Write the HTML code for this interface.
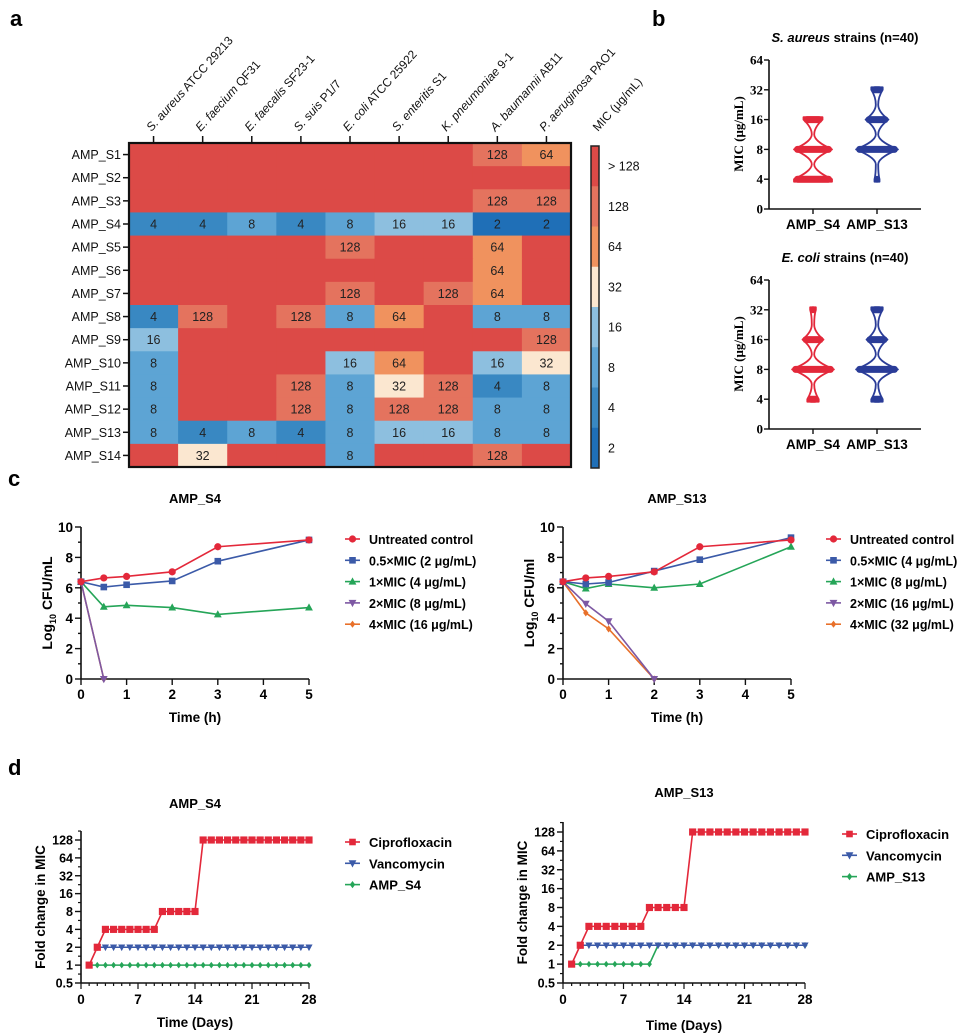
<!DOCTYPE html>
<html><head><meta charset="utf-8"><style>
html,body{margin:0;padding:0;background:#fff}
svg{display:block}
text{font-family:"Liberation Sans",Arial,sans-serif}
.b{font-weight:bold}
.serif{font-family:"Liberation Serif",serif}
</style></head><body>
<svg id="fig" width="964" height="1036" viewBox="0 0 964 1036" xmlns="http://www.w3.org/2000/svg">
<text x="10" y="26" font-size="22" class="b">a</text>
<text x="652" y="26" font-size="22" class="b">b</text>
<text x="8" y="486" font-size="22" class="b">c</text>
<text x="8" y="775" font-size="22" class="b">d</text>
<g id="gA"></g>
<g id="gB"></g>
<g id="gC"></g>
<g id="gD"></g>
</svg>
<script>
// ---------- Heatmap data ----------
const hmRows = ["AMP_S1","AMP_S2","AMP_S3","AMP_S4","AMP_S5","AMP_S6","AMP_S7","AMP_S8","AMP_S9","AMP_S10","AMP_S11","AMP_S12","AMP_S13","AMP_S14"];
const hmCols = [["S. aureus"," ATCC 29213"],["E. faecium"," QF31"],["E. faecalis"," SF23-1"],["S. suis"," P1/7"],["E. coli"," ATCC 25922"],["S. enteritis"," S1"],["K. pneumoniae"," 9-1"],["A. baumannii"," AB11"],["P. aeruginosa"," PAO1"]];
const R = 256;
const hmValues = [
[R,R,R,R,R,R,R,128,64],
[R,R,R,R,R,R,R,R,R],
[R,R,R,R,R,R,R,128,128],
[4,4,8,4,8,16,16,2,2],
[R,R,R,R,128,R,R,64,R],
[R,R,R,R,R,R,R,64,R],
[R,R,R,R,128,R,128,64,R],
[4,128,R,128,8,64,R,8,8],
[16,R,R,R,R,R,R,R,128],
[8,R,R,R,16,64,R,16,32],
[8,R,R,128,8,32,128,4,8],
[8,R,R,128,8,128,128,8,8],
[8,4,8,4,8,16,16,8,8],
[R,32,R,R,8,R,R,128,R]];
const cbLevels = [256,128,64,32,16,8,4,2];
const cbLabels = ["> 128","128","64","32","16","8","4","2"];
const cbColors = ["#dc4a47","#e4735e","#f0925e","#fbe7d0","#8dbfdf","#5da4d4","#3988c2","#1f6fb7"];

// ---------- Violin data (counts per MIC level) ----------
const vLevels = [4,8,16,32];
const vTicks = [0,4,8,16,32,64];
const vGroups = ["AMP_S4","AMP_S13"];
const saS4 = [20,20,10,0];
const saS13 = [1,22,12,6];
const ecS4 = [6,22,11,3];
const ecS13 = [6,22,11,6];

// ---------- Time-kill data ----------
const tkTimes = [0,0.5,1,2,3,5];
const tkLegS4 = ["Untreated control","0.5×MIC (2 μg/mL)","1×MIC (4 μg/mL)","2×MIC (8 μg/mL)","4×MIC (16 μg/mL)"];
const tkLegS13 = ["Untreated control","0.5×MIC (4 μg/mL)","1×MIC (8 μg/mL)","2×MIC (16 μg/mL)","4×MIC (32 μg/mL)"];
const s4Untreated = [6.4,6.65,6.75,7.05,8.7,9.15];
const s4Half = [6.4,6.05,6.2,6.45,7.75,9.15];
const s4One = [6.4,4.75,4.85,4.7,4.25,4.7];
const s4Two = [6.4,0];
const s4Four = [6.4,0];
const s13Untreated = [6.4,6.65,6.75,7.05,8.7,9.15];
const s13Half = [6.4,6.25,6.35,7.1,7.85,9.3];
const s13One = [6.4,5.95,6.25,6.0,6.25,8.7];
const s13Two = [6.4,4.95,3.8,0];
const s13Four = [6.4,4.35,3.3,0];
const tkYTicks = [0,2,4,6,8,10];
const tkXTicks = [0,1,2,3,4,5];

// ---------- Resistance data (fold change by day 1..28) ----------
const days = Array.from({length:28},(_,i)=>i+1);
const cipro = [1,2,4,4,4,4,4,4,4,8,8,8,8,8,128,128,128,128,128,128,128,128,128,128,128,128,128,128];
const vanco = [1,2,2,2,2,2,2,2,2,2,2,2,2,2,2,2,2,2,2,2,2,2,2,2,2,2,2,2];
const ampS4 = [1,1,1,1,1,1,1,1,1,1,1,1,1,1,1,1,1,1,1,1,1,1,1,1,1,1,1,1];
const ampS13 = [1,1,1,1,1,1,1,1,1,1,2,2,2,2,2,2,2,2,2,2,2,2,2,2,2,2,2,2];
const foldTicks = ["0.5","1","2","4","8","16","32","64","128"];
const dayTicks = [0,7,14,21,28];

const NS="http://www.w3.org/2000/svg";
function mk(parent, tag, attrs, txt){
  const e=document.createElementNS(NS,tag);
  for(const k in attrs) e.setAttribute(k,attrs[k]);
  if(txt!==undefined) e.textContent=txt;
  parent.appendChild(e);
  return e;
}
function nm(e,n,inter){
  
  
  return e;
}
const RED="#e3283a",BLUE="#3b5aa8",GREEN="#25a558",PURPLE="#7d58a3",ORANGE="#e8702a";

// ================= Panel A =================
(function(){
  const g=document.getElementById('gA');
  const X0=129,X1=571,Y0=143,Y1=467;
  const cw=(X1-X0)/9, rh=(Y1-Y0)/14;
  const colorOf=v=>cbColors[cbLevels.indexOf(v)];
  hmValues.forEach((row,ri)=>{
    row.forEach((v,ci)=>{
      const r=mk(g,'rect',{x:X0+ci*cw,y:Y0+ri*rh,width:cw+0.5,height:rh+0.5,fill:colorOf(v)});
      nm(r,'heatmap-cell');
      if(v!==R){
        const t=mk(g,'text',{x:X0+(ci+0.5)*cw,y:Y0+(ri+0.5)*rh+4.5,'font-size':12.5,'text-anchor':'middle',fill:'#222'},String(v));
        nm(t,'cell-value');
      }
    });
  });
  nm(mk(g,'rect',{x:X0,y:Y0,width:X1-X0,height:Y1-Y0,fill:'none',stroke:'#111','stroke-width':2.2}),'heatmap-border');
  hmRows.forEach((n,i)=>{
    const y=Y0+(i+0.5)*rh;
    nm(mk(g,'line',{x1:X0-6,x2:X0,y1:y,y2:y,stroke:'#111','stroke-width':1.5}),'row-tick');
    nm(mk(g,'text',{x:X0-8,y:y+4.5,'font-size':12.5,'text-anchor':'end',fill:'#111'},n),'row-label');
  });
  hmCols.forEach((c,i)=>{
    const x=X0+(i+0.5)*cw;
    nm(mk(g,'line',{x1:x,x2:x,y1:Y0-7,y2:Y0,stroke:'#111','stroke-width':1.5}),'column-tick');
    const t=mk(g,'text',{x:x-2,y:Y0-11,'font-size':12,transform:`rotate(-48 ${x-2} ${Y0-11})`,fill:'#111'});
    nm(t,'column-label');
    mk(t,'tspan',{'font-style':'italic'},c[0]);
    mk(t,'tspan',{},c[1]);
  });
  const CX=591,CW=8,CY0=146,CY1=468,ch=(CY1-CY0)/8;
  cbColors.forEach((col,i)=>{
    nm(mk(g,'rect',{x:CX,y:CY0+i*ch,width:CW,height:ch+0.5,fill:col}),'colorbar-segment');
    nm(mk(g,'text',{x:CX+17,y:CY0+(i+0.5)*ch+4.5,'font-size':12.5,fill:'#111'},cbLabels[i]),'colorbar-label');
  });
  nm(mk(g,'rect',{x:CX,y:CY0,width:CW,height:CY1-CY0,fill:'none',stroke:'#222','stroke-width':1.5}),'colorbar-border');
  nm(mk(g,'text',{x:598,y:132,'font-size':12,transform:'rotate(-48 598 132)',fill:'#111'},'MIC (μg/mL)'),'colorbar-title');
})();

// ================= Panel B =================
(function(){
  const g=document.getElementById('gB');
  function violinChart(ax,y0,y64,title,it,data){
    const step=(y0-y64)/5;
    const idx=v=>v===0?0:Math.log2(v)-1;
    const ys=v=>y0-idx(v)*step;
    const xEnd=921, centers=[813,877];
    const tt=mk(g,'text',{x:845,y:y64-18,'font-size':13,'text-anchor':'middle',class:'b'});
    nm(tt,'violin-title');
    mk(tt,'tspan',{'font-style':'italic'},it); mk(tt,'tspan',{},title);
    nm(mk(g,'line',{x1:ax,x2:ax,y1:y64,y2:y0,stroke:'#111','stroke-width':1.6}),'violin-y-axis');
    nm(mk(g,'line',{x1:ax,x2:xEnd,y1:y0,y2:y0,stroke:'#111','stroke-width':1.6}),'violin-x-axis');
    vTicks.forEach(v=>{
      const y=ys(v);
      nm(mk(g,'line',{x1:ax-5,x2:ax,y1:y,y2:y,stroke:'#111','stroke-width':1.4}),'violin-y-tick');
      nm(mk(g,'text',{x:ax-6,y:y+4.5,'font-size':13,'text-anchor':'end',class:'b serif'},String(v)),'violin-y-tick-label');
    });
    nm(mk(g,'text',{x:0,y:0,'font-size':13,'text-anchor':'middle',class:'b serif',transform:`translate(${ax-26} ${y0-75}) rotate(-90)`},'MIC (μg/mL)'),'violin-y-title');
    vGroups.forEach((n,i)=>{
      nm(mk(g,'line',{x1:centers[i],x2:centers[i],y1:y0,y2:y0+5,stroke:'#111','stroke-width':1.4}),'violin-x-tick');
      nm(mk(g,'text',{x:centers[i],y:y0+20,'font-size':13.5,'text-anchor':'middle',class:'b'},n),'violin-x-label');
    });
    data.forEach((counts,gi)=>{
      const cx=centers[gi], col=gi===0?RED:'#2a3c98';
      const k=0.95;
      const pts=[];
      vLevels.forEach((lv,li)=>{ if(counts[li]>0) pts.push({y:ys(lv),w:Math.max(2.5,counts[li]*k)}); });
      let d=`M ${cx-pts[0].w} ${pts[0].y+2.5} L ${cx+pts[0].w} ${pts[0].y+2.5} L ${cx+pts[0].w} ${pts[0].y}`;
      for(let j=0;j<pts.length-1;j++){
        const a=pts[j],b=pts[j+1],ym=(a.y+b.y)/2,h=a.y-b.y,n=1.2;
        d+=` C ${cx+a.w*0.6} ${a.y-h*0.12} ${cx+n} ${ym+h*0.2} ${cx+n} ${ym}`;
        d+=` C ${cx+n} ${ym-h*0.2} ${cx+b.w*0.6} ${b.y+h*0.12} ${cx+b.w} ${b.y}`;
      }
      const top=pts[pts.length-1];
      d+=` L ${cx+top.w} ${top.y-2.5} L ${cx-top.w} ${top.y-2.5} L ${cx-top.w} ${top.y}`;
      for(let j=pts.length-1;j>0;j--){
        const a=pts[j],b=pts[j-1],ym=(a.y+b.y)/2,h=b.y-a.y,n=1.2;
        d+=` C ${cx-a.w*0.6} ${a.y+h*0.12} ${cx-n} ${ym-h*0.2} ${cx-n} ${ym}`;
        d+=` C ${cx-n} ${ym+h*0.2} ${cx-b.w*0.6} ${b.y-h*0.12} ${cx-b.w} ${b.y}`;
      }
      d+=' Z';
      nm(mk(g,'path',{d,fill:'none',stroke:col,'stroke-width':1.8,'stroke-linejoin':'round'}),'violin-outline');
      pts.forEach(p=>{
        nm(mk(g,'rect',{x:cx-p.w,y:p.y-3.5,width:2*p.w,height:7,rx:3.5,fill:col}),'violin-points');
      });
    });
  }
  violinChart(769,209,60,' strains (n=40)','S. aureus',[saS4,saS13]);
  violinChart(769,429,280,' strains (n=40)','E. coli',[ecS4,ecS13]);
})();

function marker(g,type,x,y,col,s){
  let e;
  if(type==='circle') e=mk(g,'circle',{cx:x,cy:y,r:s*0.6,fill:col});
  else if(type==='square') e=mk(g,'rect',{x:x-s*0.55,y:y-s*0.55,width:s*1.1,height:s*1.1,fill:col});
  else if(type==='tri') e=mk(g,'path',{d:`M ${x} ${y-s*0.7} L ${x+s*0.65} ${y+s*0.5} L ${x-s*0.65} ${y+s*0.5} Z`,fill:col});
  else if(type==='dtri') e=mk(g,'path',{d:`M ${x} ${y+s*0.7} L ${x+s*0.65} ${y-s*0.5} L ${x-s*0.65} ${y-s*0.5} Z`,fill:col});
  else e=mk(g,'path',{d:`M ${x} ${y-s*0.6} L ${x+s*0.45} ${y} L ${x} ${y+s*0.6} L ${x-s*0.45} ${y} Z`,fill:col});
  nm(e,'data-point');
  return e;
}

// ================= Panel C =================
(function(){
  const g=document.getElementById('gC');
  const cols=[RED,BLUE,GREEN,PURPLE,ORANGE], mks=['circle','square','tri','dtri','diamond'];
  function chart(x0,x5,title,ylab,series,legend,lx){
    const yTop=527,yBot=679;
    const xs=t=>x0+t/5*(x5-x0), ys=v=>yBot-v/10*(yBot-yTop);
    nm(mk(g,'text',{x:(x0+x5)/2,y:503,'font-size':13,'text-anchor':'middle',class:'b'},title),'chart-title');
    nm(mk(g,'line',{x1:x0,x2:x0,y1:yTop,y2:yBot,stroke:'#111','stroke-width':1.6}),'y-axis');
    nm(mk(g,'line',{x1:x0,x2:x5,y1:yBot,y2:yBot,stroke:'#111','stroke-width':1.6}),'x-axis');
    for(let v=0;v<=10;v++){
      const major=v%2===0;
      nm(mk(g,'line',{x1:x0-(major?6:3),x2:x0,y1:ys(v),y2:ys(v),stroke:'#111','stroke-width':1.4}),'y-tick');
    }
    tkYTicks.forEach(v=>nm(mk(g,'text',{x:x0-8,y:ys(v)+5,'font-size':13.5,'text-anchor':'end',class:'b'},String(v)),'y-tick-label'));
    tkXTicks.forEach(t=>{
      nm(mk(g,'line',{x1:xs(t),x2:xs(t),y1:yBot,y2:yBot+6,stroke:'#111','stroke-width':1.4}),'x-tick');
      nm(mk(g,'text',{x:xs(t),y:yBot+20,'font-size':13.5,'text-anchor':'middle',class:'b'},String(t)),'x-tick-label');
    });
    nm(mk(g,'text',{x:(x0+x5)/2,y:722,'font-size':13.5,'text-anchor':'middle',class:'b'},'Time (h)'),'x-axis-title');
    const yl=mk(g,'text',{x:0,y:0,'font-size':14,'text-anchor':'middle',class:'b',transform:`translate(${x0-29} ${(yTop+yBot)/2}) rotate(-90)`});
    nm(yl,'y-axis-title');
    mk(yl,'tspan',{},'Log'); mk(yl,'tspan',{'font-size':9,dy:4},'10'); mk(yl,'tspan',{dy:-4},ylab);
    [4,3,2,1,0].forEach(si=>{
      const vals=series[si];
      const pts=vals.map((v,i)=>`${xs(tkTimes[i])},${ys(v)}`).join(' ');
      nm(mk(g,'polyline',{points:pts,fill:'none',stroke:cols[si],'stroke-width':1.6}),'series-line');
      vals.forEach((v,i)=>marker(g,mks[si],xs(tkTimes[i]),ys(v),cols[si],6));
    });
    legend.forEach((l,i)=>{
      const y=539+i*21.3;
      nm(mk(g,'line',{x1:lx,x2:lx+15,y1:y,y2:y,stroke:cols[i],'stroke-width':1.6}),'legend-line');
      marker(g,mks[i],lx+7.5,y,cols[i],6);
      nm(mk(g,'text',{x:lx+24,y:y+5,'font-size':12.5,class:'b'},l),'legend-entry');
    });
  }
  chart(81,309,'AMP_S4',' CFU/mL',[s4Untreated,s4Half,s4One,s4Two,s4Four],tkLegS4,345);
  chart(563,791,'AMP_S13',' CFU/ml',[s13Untreated,s13Half,s13One,s13Two,s13Four],tkLegS13,826);
})();

// ================= Panel D =================
(function(){
  const g=document.getElementById('gD');
  const cols=[RED,BLUE,GREEN], mks=['square','dtri','diamond'];
  function chart(x0,x28,y128,y05,yAx,titleY,title,series,legend,lx,ly,xlabY){
    const step=(y05-y128)/8;
    const xs=d=>x0+d/28*(x28-x0), ys=v=>y128+(7-Math.log2(v))*step;
    nm(mk(g,'text',{x:(x0+x28)/2,y:titleY,'font-size':13,'text-anchor':'middle',class:'b'},title),'chart-title');
    nm(mk(g,'line',{x1:x0,x2:x0,y1:yAx,y2:y05,stroke:'#111','stroke-width':1.6}),'y-axis');
    nm(mk(g,'line',{x1:x0,x2:x28,y1:y05,y2:y05,stroke:'#111','stroke-width':1.6}),'x-axis');
    foldTicks.forEach(t=>{
      const y=ys(parseFloat(t));
      nm(mk(g,'line',{x1:x0-6,x2:x0,y1:y,y2:y,stroke:'#111','stroke-width':1.4}),'y-tick');
      nm(mk(g,'text',{x:x0-8,y:y+4.5,'font-size':12.5,'text-anchor':'end',class:'b'},t),'y-tick-label');
    });
    for(let i=0;i<8;i++){const y=y128+(i+0.5)*step;nm(mk(g,'line',{x1:x0-3,x2:x0,y1:y,y2:y,stroke:'#111','stroke-width':1.2}),'y-minor-tick');}
    if(yAx<y128-4){const y=y128-step*0.5;nm(mk(g,'line',{x1:x0-3,x2:x0,y1:y,y2:y,stroke:'#111','stroke-width':1.2}),'y-minor-tick');}
    for(let d=0;d<=28;d++){
      const major=d%7===0;
      nm(mk(g,'line',{x1:xs(d),x2:xs(d),y1:y05,y2:y05+(major?6:3),stroke:'#111','stroke-width':1.2}),'x-tick');
    }
    dayTicks.forEach(d=>nm(mk(g,'text',{x:xs(d),y:y05+21,'font-size':13.5,'text-anchor':'middle',class:'b'},String(d)),'x-tick-label'));
    nm(mk(g,'text',{x:(x0+x28)/2,y:xlabY,'font-size':13.5,'text-anchor':'middle',class:'b'},'Time (Days)'),'x-axis-title');
    nm(mk(g,'text',{x:0,y:0,'font-size':13.5,'text-anchor':'middle',class:'b',transform:`translate(${x0-36} ${(yAx+y05)/2}) rotate(-90)`},'Fold change in MIC'),'y-axis-title');
    [2,1,0].forEach(si=>{
      const vals=series[si];
      const start=si===1?1:0;
      const pts=vals.slice(start).map((v,i)=>`${xs(days[i+start])},${ys(v)}`).join(' ');
      nm(mk(g,'polyline',{points:pts,fill:'none',stroke:cols[si],'stroke-width':1.6}),'series-line');
      vals.forEach((v,i)=>{ if(i>=start) marker(g,mks[si],xs(days[i]),ys(v),cols[si],si===0?6.5:5.5); });
    });
    legend.forEach((l,i)=>{
      const y=ly+i*21.3;
      nm(mk(g,'line',{x1:lx,x2:lx+15,y1:y,y2:y,stroke:cols[i],'stroke-width':1.6}),'legend-line');
      marker(g,mks[i],lx+7.5,y,cols[i],6);
      nm(mk(g,'text',{x:lx+24,y:y+5,'font-size':13,class:'b'},l),'legend-entry');
    });
  }
  chart(81,309,840,983,831,808,'AMP_S4',[cipro,vanco,ampS4],['Ciprofloxacin','Vancomycin','AMP_S4'],345,842,1027);
  chart(563,805,832,983,822,797,'AMP_S13',[cipro,vanco,ampS13],['Ciprofloxacin','Vancomycin','AMP_S13'],842,834,1030);
})();
</script>
</body></html>
